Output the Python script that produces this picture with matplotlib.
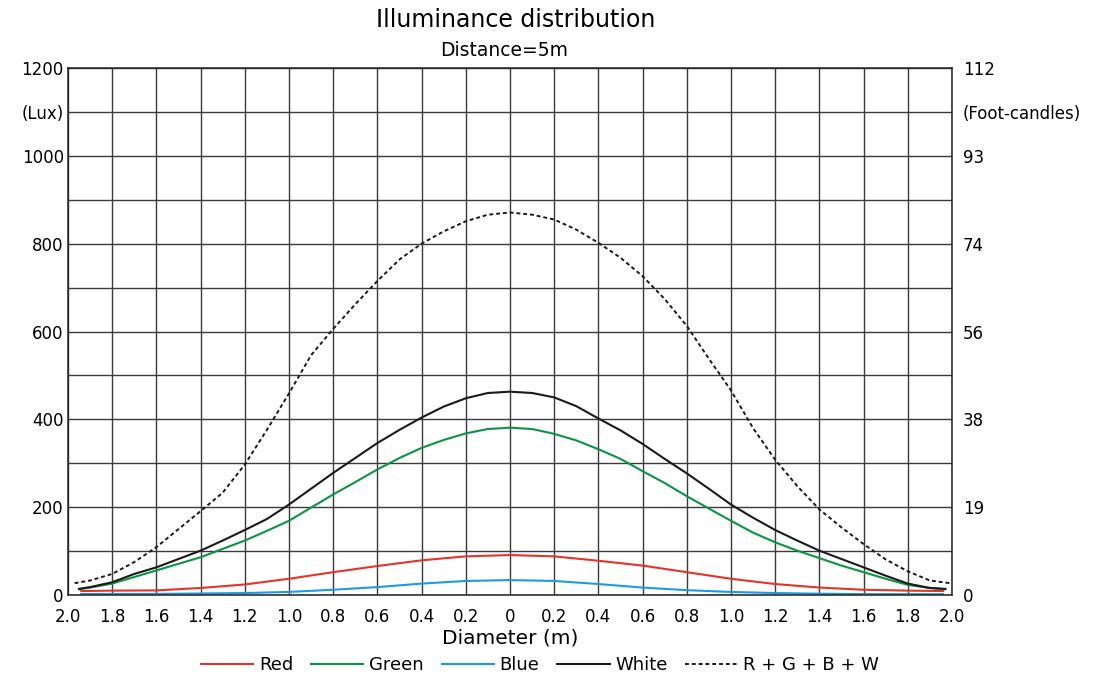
import matplotlib
matplotlib.use('Agg')
import matplotlib.pyplot as plt

# diameter positions (m), negative = left side of the beam
x_fine = [-1.95] + [round(-1.9 + 0.1 * i, 1) for i in range(39)] + [1.97]
x_sum = [-1.97] + [round(-1.9 + 0.1 * i, 1) for i in range(39)] + [1.99]
x_coarse = [-1.94] + [round(-1.8 + 0.2 * i, 1) for i in range(19)] + [1.96]

white = [14, 18, 29, 48, 63, 82, 101, 124, 148, 173, 206, 242, 278, 312, 346, 376, 404, 429, 448, 460,
         463,
         460, 450, 430, 402, 375, 344, 310, 277, 242, 206, 176, 148, 124, 101, 82, 63, 44, 26, 16, 14]
green = [13, 17, 26, 41, 56, 71, 86, 105, 124, 146, 169, 199, 229, 257, 286, 312, 335, 353, 368, 378,
         381,
         378, 367, 352, 332, 310, 282, 255, 225, 197, 169, 142, 120, 101, 84, 67, 52, 37, 23, 16, 13]
rgbw = [27, 33, 48, 75, 109, 150, 191, 233, 297, 376, 459, 546, 606, 662, 715, 764, 800, 828, 851, 866,
        871,
        866, 855, 832, 802, 768, 726, 674, 613, 538, 466, 380, 308, 248, 195, 154, 116, 81, 54, 33, 27]
red = [9, 10, 10.5, 16, 24, 37, 52, 66, 79, 88, 91, 88, 78, 67, 52, 37, 25, 17, 12, 10, 9]
blue = [2.5, 2.5, 2.5, 3.5, 4.5, 7, 12, 18, 26, 32, 34, 32, 25, 17, 11, 7, 4.5, 3, 2, 2, 2]

x_labels = ['2.0', '1.8', '1.6', '1.4', '1.2', '1.0', '0.8', '0.6', '0.4', '0.2', '0',
            '0.2', '0.4', '0.6', '0.8', '1.0', '1.2', '1.4', '1.6', '1.8', '2.0']
lux_ticks = [0, 200, 400, 600, 800, 1000, 1100, 1200]
lux_labels = ['0', '200', '400', '600', '800', '1000', '(Lux)', '1200']
fc_labels = ['0', '19', '38', '56', '74', '93', '(Foot-candles)', '112']

plt.rcParams['font.family'] = ['DejaVu Sans']

fig = plt.figure(figsize=(11.09, 6.78), dpi=100)
ax = fig.add_axes([0.0613, 0.1224, 0.7971, 0.7773])

ax.plot(x_coarse, red, color='#e5332a', lw=1.5, label='Red')
ax.plot(x_fine, green, color='#0b9444', lw=1.5, label='Green')
ax.plot(x_coarse, blue, color='#1b9ce2', lw=1.5, label='Blue')
ax.plot(x_fine, white, color='#1a1a1a', lw=1.5, label='White')
ax.plot(x_sum, rgbw, color='#1a1a1a', lw=1.4, ls=(0, (2.0, 1.5)), label='R + G + B + W')

ax.set_xlim(-2, 2)
ax.set_ylim(0, 1200)
ax.set_xticks([v / 10 for v in range(-20, 21, 2)])
ax.set_xticklabels(x_labels, fontsize=12)
ax.set_yticks(range(0, 1201, 100), minor=True)
ax.set_yticks(lux_ticks)
ax.set_yticklabels(lux_labels, fontsize=12)
ax.tick_params(axis='both', which='both', length=0)
ax.tick_params(axis='x', pad=9)
ax.tick_params(axis='y', pad=3)
ax.grid(True, which='both', color='#3a3a3a', lw=1.0)
ax.set_axisbelow(True)
for s in ax.spines.values():
    s.set_color('#222222')
    s.set_linewidth(1.1)

ax2 = ax.twinx()
ax2.set_ylim(0, 1200)
ax2.set_yticks(lux_ticks)
ax2.set_yticklabels(fc_labels, fontsize=12)
ax2.tick_params(axis='y', length=0, pad=8)
for s in ax2.spines.values():
    s.set_visible(False)

ax.set_xlabel('Diameter (m)', fontsize=14.5, labelpad=2)
fig.text(0.465, 0.970, 'Illuminance distribution', ha='center', va='center', fontsize=17)
fig.text(0.455, 0.925, 'Distance=5m', ha='center', va='center', fontsize=13.5)

fig.legend(loc='center', bbox_to_anchor=(0.487, 0.019), ncol=5, frameon=False,
           fontsize=13, handlelength=2.9, columnspacing=1.0, handletextpad=0.3)

fig.savefig('out.png', dpi=100)
